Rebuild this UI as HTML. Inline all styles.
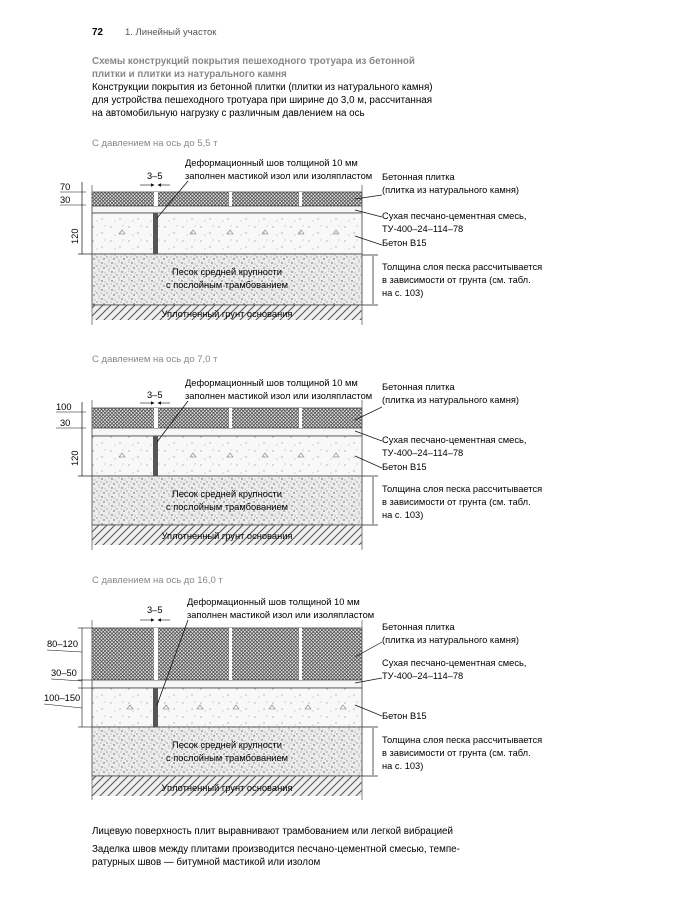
<!DOCTYPE html>
<html><head><meta charset="utf-8">
<style>
body{margin:0;background:#fff;}
svg{display:block;font-family:"Liberation Sans","DejaVu Sans",sans-serif;}
.t{font-size:9.3px;fill:#000;}
.h{font-size:9.8px;fill:#000;}
.g{font-size:9.8px;fill:#888;font-weight:bold;}
.gl{font-size:9.5px;fill:#888;}
</style></head><body>
<svg width="696" height="910" viewBox="0 0 696 910" xmlns="http://www.w3.org/2000/svg">
<defs>
<pattern id="cross" width="3.5" height="3.5" patternUnits="userSpaceOnUse">
<rect width="3.5" height="3.5" fill="#ddd"/>
<path d="M0 0L3.5 3.5M3.5 0L0 3.5" stroke="#444" stroke-width="0.7"/>
</pattern>
<pattern id="dots" width="10" height="9" patternUnits="userSpaceOnUse">
<rect width="10" height="9" fill="#ececec"/>
<circle cx="2" cy="2" r="0.7" fill="#555"/><circle cx="7" cy="5" r="0.6" fill="#666"/>
<circle cx="9" cy="1" r="0.5" fill="#777"/><circle cx="4" cy="7" r="0.7" fill="#555"/>
<circle cx="9" cy="8" r="0.5" fill="#666"/><circle cx="1" cy="5" r="0.5" fill="#777"/>
<circle cx="5" cy="3" r="0.5" fill="#777"/>
</pattern>
<pattern id="conc" width="18" height="14" patternUnits="userSpaceOnUse">
<rect width="18" height="14" fill="#f8f8f8"/>
<circle cx="3" cy="3" r="0.6" fill="#888"/><circle cx="12" cy="9" r="0.6" fill="#888"/>
<circle cx="15" cy="2" r="0.5" fill="#999"/><circle cx="7" cy="11" r="0.5" fill="#999"/>
</pattern>
<pattern id="soil" width="8" height="8" patternUnits="userSpaceOnUse">
<rect width="8" height="8" fill="#eee"/>
<path d="M0 8L8 0M-2 2L2 -2M6 10L10 6" stroke="#555" stroke-width="1"/>
</pattern>
<marker id="ar" markerWidth="6" markerHeight="6" refX="5" refY="3" orient="auto"><path d="M0 0L6 3L0 6z" fill="#111"/></marker>
<g id="tri"><path d="M0 0L3 -4L6 0z" fill="none" stroke="#777" stroke-width="0.6"/></g>
</defs>

<text x="92" y="35" class="h" font-weight="bold">72</text>
<text x="125" y="35" class="gl" style="fill:#555">1. Линейный участок</text>
<text x="92" y="64" class="g">Схемы конструкций покрытия пешеходного тротуара из бетонной</text>
<text x="92" y="77" class="g">плитки и плитки из натурального камня</text>
<text x="92" y="90" class="h">Конструкции покрытия из бетонной плитки (плитки из натурального камня)</text>
<text x="92" y="103" class="h">для устройства пешеходного тротуара при ширине до 3,0 м, рассчитанная</text>
<text x="92" y="116" class="h">на автомобильную нагрузку с различным давлением на ось</text>

<!-- SECTION 1 -->
<text x="92" y="146" class="gl">С давлением на ось до 5,5 т</text>
<g stroke="#444" stroke-width="0.8">
<rect x="92" y="192" width="270" height="14" fill="url(#cross)"/>
<rect x="92" y="206" width="270" height="7" fill="#f6f6f6"/>
<rect x="92" y="213" width="270" height="41" fill="url(#conc)"/>
<rect x="92" y="254" width="270" height="51" fill="url(#dots)"/>
<rect x="92" y="305" width="270" height="15" fill="url(#soil)" stroke="none"/>
<line x1="92" y1="305" x2="362" y2="305"/>
</g>
<use href="#tri" x="119" y="234"/><use href="#tri" x="190" y="234"/><use href="#tri" x="227" y="234"/><use href="#tri" x="262" y="234"/><use href="#tri" x="298" y="234"/><use href="#tri" x="333" y="234"/>
<g fill="#fff"><rect x="154" y="192" width="4" height="14"/><rect x="229" y="192" width="3" height="14"/><rect x="299" y="192" width="3" height="14"/></g>
<rect x="153" y="213" width="5" height="41" fill="#555"/>
<line x1="92" y1="185" x2="92" y2="325" stroke="#666" stroke-width="0.8"/><line x1="362" y1="185" x2="362" y2="325" stroke="#666" stroke-width="0.8"/>
<text x="185" y="166" class="t">Деформационный шов толщиной 10 мм</text>
<text x="185" y="179" class="t">заполнен мастикой изол или изоляпластом</text>
<line x1="188" y1="181" x2="157" y2="218" stroke="#111" stroke-width="0.8"/>
<text x="147" y="179" class="t">3–5</text>
<line x1="140" y1="185" x2="154" y2="185" stroke="#111" stroke-width="0.6" marker-end="url(#ar)"/>
<line x1="170" y1="185" x2="158" y2="185" stroke="#111" stroke-width="0.6" marker-end="url(#ar)"/>
<text x="60" y="190" class="t">70</text><text x="60" y="203" class="t">30</text>
<line x1="60" y1="192" x2="86" y2="192" stroke="#111" stroke-width="0.6"/><line x1="60" y1="205" x2="86" y2="205" stroke="#111" stroke-width="0.6"/>
<line x1="82" y1="182" x2="82" y2="254" stroke="#111" stroke-width="0.7"/>
<line x1="78" y1="254" x2="92" y2="254" stroke="#111" stroke-width="0.7"/>
<text x="0" y="0" class="t" transform="translate(78,244) rotate(-90)">120</text>
<text x="382" y="180" class="t">Бетонная плитка</text>
<text x="382" y="193" class="t">(плитка из натурального камня)</text>
<text x="382" y="219" class="t">Сухая песчано-цементная смесь,</text>
<text x="382" y="232" class="t">ТУ-400–24–114–78</text>
<text x="382" y="246" class="t">Бетон В15</text>
<text x="382" y="270" class="t">Толщина слоя песка рассчитывается</text>
<text x="382" y="283" class="t">в зависимости от грунта (см. табл.</text>
<text x="382" y="296" class="t">на с. 103)</text>
<g stroke="#111" stroke-width="0.7" fill="none">
<path d="M355 199L382 195"/><path d="M355 210L382 217"/><path d="M355 236L382 245"/>
<line x1="373" y1="256" x2="373" y2="304"/><line x1="362" y1="255" x2="378" y2="255"/><line x1="362" y1="305" x2="378" y2="305"/>
</g>
<text x="227" y="275" class="t" text-anchor="middle">Песок средней крупности</text>
<text x="227" y="288" class="t" text-anchor="middle">с послойным трамбованием</text>
<text x="227" y="317" class="t" text-anchor="middle">Уплотненный грунт основания</text>

<!-- SECTION 2 -->
<text x="92" y="362" class="gl">С давлением на ось до 7,0 т</text>
<g stroke="#444" stroke-width="0.8">
<rect x="92" y="408" width="270" height="20" fill="url(#cross)"/>
<rect x="92" y="428" width="270" height="8" fill="#f6f6f6"/>
<rect x="92" y="436" width="270" height="40" fill="url(#conc)"/>
<rect x="92" y="476" width="270" height="49" fill="url(#dots)"/>
<rect x="92" y="525" width="270" height="20" fill="url(#soil)" stroke="none"/>
<line x1="92" y1="525" x2="362" y2="525"/>
</g>
<use href="#tri" x="119" y="457"/><use href="#tri" x="190" y="457"/><use href="#tri" x="227" y="457"/><use href="#tri" x="262" y="457"/><use href="#tri" x="298" y="457"/><use href="#tri" x="333" y="457"/>
<g fill="#fff"><rect x="154" y="408" width="4" height="20"/><rect x="229" y="408" width="3" height="20"/><rect x="299" y="408" width="3" height="20"/></g>
<rect x="153" y="436" width="5" height="40" fill="#555"/>
<line x1="92" y1="400" x2="92" y2="550" stroke="#666" stroke-width="0.8"/><line x1="362" y1="400" x2="362" y2="550" stroke="#666" stroke-width="0.8"/>
<text x="185" y="386" class="t">Деформационный шов толщиной 10 мм</text>
<text x="185" y="399" class="t">заполнен мастикой изол или изоляпластом</text>
<line x1="188" y1="401" x2="157" y2="442" stroke="#111" stroke-width="0.8"/>
<text x="147" y="398" class="t">3–5</text>
<line x1="140" y1="403" x2="154" y2="403" stroke="#111" stroke-width="0.6" marker-end="url(#ar)"/>
<line x1="170" y1="403" x2="158" y2="403" stroke="#111" stroke-width="0.6" marker-end="url(#ar)"/>
<text x="56" y="410" class="t">100</text><text x="60" y="426" class="t">30</text>
<line x1="56" y1="412" x2="86" y2="412" stroke="#111" stroke-width="0.6"/><line x1="56" y1="428" x2="86" y2="428" stroke="#111" stroke-width="0.6"/>
<line x1="82" y1="402" x2="82" y2="476" stroke="#111" stroke-width="0.7"/>
<line x1="78" y1="476" x2="92" y2="476" stroke="#111" stroke-width="0.7"/>
<text x="0" y="0" class="t" transform="translate(78,466) rotate(-90)">120</text>
<text x="382" y="390" class="t">Бетонная плитка</text>
<text x="382" y="403" class="t">(плитка из натурального камня)</text>
<text x="382" y="443" class="t">Сухая песчано-цементная смесь,</text>
<text x="382" y="456" class="t">ТУ-400–24–114–78</text>
<text x="382" y="470" class="t">Бетон В15</text>
<text x="382" y="492" class="t">Толщина слоя песка рассчитывается</text>
<text x="382" y="505" class="t">в зависимости от грунта (см. табл.</text>
<text x="382" y="518" class="t">на с. 103)</text>
<g stroke="#111" stroke-width="0.7" fill="none">
<path d="M355 420L382 407"/><path d="M355 431L382 441"/><path d="M355 456L382 468"/>
<line x1="373" y1="477" x2="373" y2="524"/><line x1="362" y1="476" x2="378" y2="476"/><line x1="362" y1="525" x2="378" y2="525"/>
</g>
<text x="227" y="497" class="t" text-anchor="middle">Песок средней крупности</text>
<text x="227" y="510" class="t" text-anchor="middle">с послойным трамбованием</text>
<text x="227" y="539" class="t" text-anchor="middle">Уплотненный грунт основания</text>

<!-- SECTION 3 -->
<text x="92" y="583" class="gl">С давлением на ось до 16,0 т</text>
<g stroke="#444" stroke-width="0.8">
<rect x="92" y="628" width="270" height="52" fill="url(#cross)"/>
<rect x="92" y="680" width="270" height="8" fill="#f6f6f6"/>
<rect x="92" y="688" width="270" height="39" fill="url(#conc)"/>
<rect x="92" y="727" width="270" height="49" fill="url(#dots)"/>
<rect x="92" y="776" width="270" height="20" fill="url(#soil)" stroke="none"/>
<line x1="92" y1="776" x2="362" y2="776"/>
</g>
<use href="#tri" x="127" y="709"/><use href="#tri" x="163" y="709"/><use href="#tri" x="197" y="709"/><use href="#tri" x="233" y="709"/><use href="#tri" x="269" y="709"/><use href="#tri" x="305" y="709"/><use href="#tri" x="340" y="709"/>
<g fill="#fff"><rect x="154" y="628" width="4" height="52"/><rect x="229" y="628" width="3" height="52"/><rect x="299" y="628" width="3" height="52"/></g>
<rect x="153" y="688" width="5" height="39" fill="#555"/>
<line x1="92" y1="620" x2="92" y2="800" stroke="#666" stroke-width="0.8"/><line x1="362" y1="620" x2="362" y2="800" stroke="#666" stroke-width="0.8"/>
<text x="187" y="605" class="t">Деформационный шов толщиной 10 мм</text>
<text x="187" y="618" class="t">заполнен мастикой изол или изоляпластом</text>
<line x1="188" y1="620" x2="157" y2="705" stroke="#111" stroke-width="0.8"/>
<text x="147" y="613" class="t">3–5</text>
<line x1="140" y1="620" x2="154" y2="620" stroke="#111" stroke-width="0.6" marker-end="url(#ar)"/>
<line x1="170" y1="620" x2="158" y2="620" stroke="#111" stroke-width="0.6" marker-end="url(#ar)"/>
<text x="47" y="647" class="t">80–120</text><text x="51" y="676" class="t">30–50</text><text x="44" y="701" class="t">100–150</text>
<g stroke="#111" stroke-width="0.6" fill="none">
<path d="M47 650L82 652"/><path d="M51 679L82 681"/><path d="M44 704L82 708"/>
<line x1="82" y1="628" x2="82" y2="727"/><line x1="78" y1="628" x2="92" y2="628"/><line x1="78" y1="680" x2="92" y2="680"/><line x1="78" y1="688" x2="92" y2="688"/><line x1="78" y1="727" x2="92" y2="727"/>
</g>
<text x="382" y="630" class="t">Бетонная плитка</text>
<text x="382" y="643" class="t">(плитка из натурального камня)</text>
<text x="382" y="666" class="t">Сухая песчано-цементная смесь,</text>
<text x="382" y="679" class="t">ТУ-400–24–114–78</text>
<text x="382" y="719" class="t">Бетон В15</text>
<text x="382" y="743" class="t">Толщина слоя песка рассчитывается</text>
<text x="382" y="756" class="t">в зависимости от грунта (см. табл.</text>
<text x="382" y="769" class="t">на с. 103)</text>
<g stroke="#111" stroke-width="0.7" fill="none">
<path d="M355 657L382 642"/><path d="M355 683L382 678"/><path d="M355 705L382 716"/>
<line x1="373" y1="728" x2="373" y2="775"/><line x1="362" y1="727" x2="378" y2="727"/><line x1="362" y1="776" x2="378" y2="776"/>
</g>
<text x="227" y="748" class="t" text-anchor="middle">Песок средней крупности</text>
<text x="227" y="761" class="t" text-anchor="middle">с послойным трамбованием</text>
<text x="227" y="791" class="t" text-anchor="middle">Уплотненный грунт основания</text>

<text x="92" y="834" class="h">Лицевую поверхность плит выравнивают трамбованием или легкой вибрацией</text>
<text x="92" y="852" class="h">Заделка швов между плитами производится песчано-цементной смесью, темпе-</text>
<text x="92" y="865" class="h">ратурных швов — битумной мастикой или изолом</text>
</svg>
</body></html>
